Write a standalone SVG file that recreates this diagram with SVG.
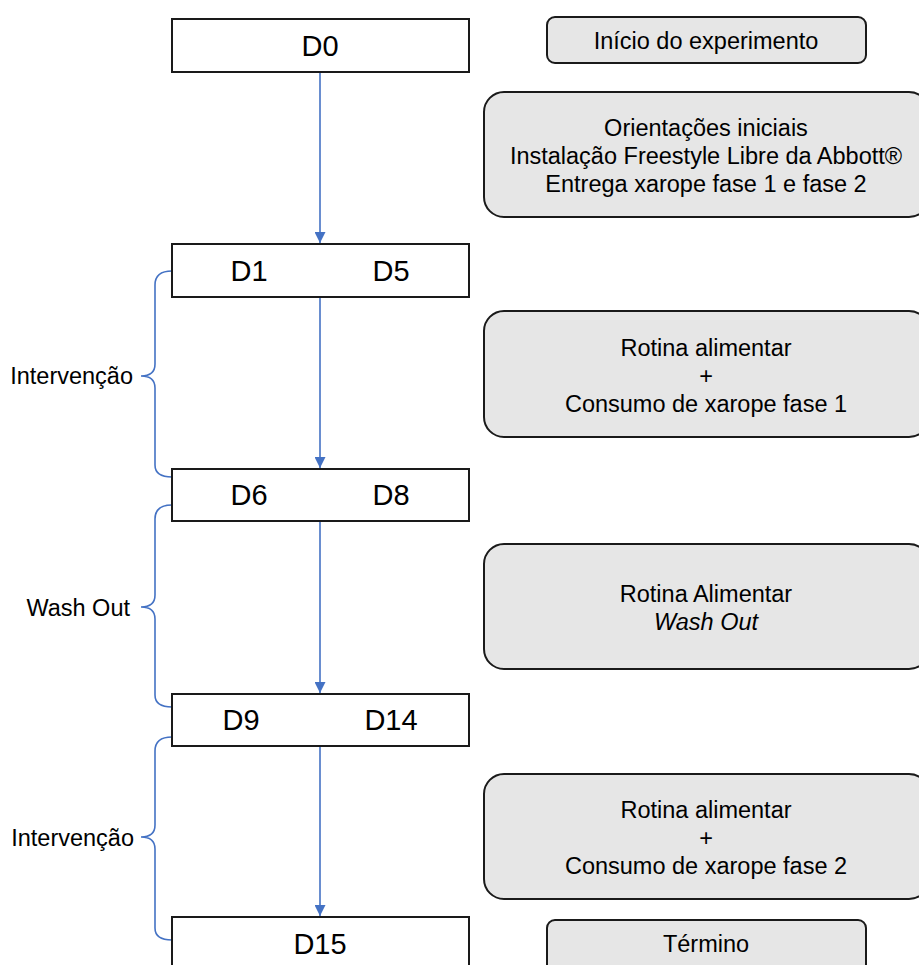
<svg xmlns="http://www.w3.org/2000/svg" width="919" height="965" viewBox="0 0 919 965">
<style>
.day{fill:#fff;stroke:#1a1a1a;stroke-width:2}
.note{fill:#e6e6e6;stroke:#1a1a1a;stroke-width:2}
.t{font-family:"Liberation Sans",Arial,sans-serif;fill:#000;text-anchor:middle}
.big{font-size:29px}
.mid{font-size:23.5px}
.lab{font-family:"Liberation Sans",Arial,sans-serif;font-size:23.5px;fill:#000;text-anchor:end}
.c{fill:none;stroke:#4472C4;stroke-width:1.6}
</style>
<defs>
<marker id="ah" viewBox="0 0 10 10" refX="10" refY="5" markerWidth="11" markerHeight="11" markerUnits="userSpaceOnUse" orient="auto"><path d="M0,0 L10,5 L0,10 z" fill="#4472C4"/></marker>
</defs>
<rect width="919" height="965" fill="#fff"/>
<g id="connectors">
<line class="c" x1="320" y1="73" x2="320" y2="243" marker-end="url(#ah)"/>
<line class="c" x1="320" y1="298" x2="320" y2="468" marker-end="url(#ah)"/>
<line class="c" x1="320" y1="522" x2="320" y2="693" marker-end="url(#ah)"/>
<line class="c" x1="320" y1="747" x2="320" y2="916" marker-end="url(#ah)"/>
<path class="c" d="M172,271 Q155,271 155,285 L155,364 Q155,376 141,376 Q155,376 155,388 L155,465 Q155,477 172,477"/>
<path class="c" d="M172,505 Q155,505 155,519 L155,595 Q155,607 141,607 Q155,607 155,619 L155,695 Q155,707 172,707"/>
<path class="c" d="M172,737 Q155,737 155,751 L155,825 Q155,837 141,837 Q155,837 155,849 L155,928 Q155,940 172,940"/>
</g>
<g id="d0"><rect class="day" x="172" y="19" width="297" height="53"/><text class="t big" x="320" y="56">D0</text></g>
<g id="inicio"><rect class="note" x="547" y="17" width="319" height="46" rx="8"/><text class="t mid" x="706" y="49">Início do experimento</text></g>
<g id="orient"><rect class="note" x="484" y="92" width="445" height="125" rx="20"/>
<text class="t mid" x="706" y="136">Orientações iniciais</text>
<text class="t mid" x="706" y="164">Instalação Freestyle Libre da Abbott®</text>
<text class="t mid" x="706" y="192">Entrega xarope fase 1 e fase 2</text></g>
<g id="d1d5"><rect class="day" x="172" y="244" width="297" height="53"/><text class="t big" x="249" y="281">D1</text><text class="t big" x="391" y="281">D5</text></g>
<g id="rotina1"><rect class="note" x="484" y="311" width="445" height="126" rx="20"/>
<text class="t mid" x="706" y="356">Rotina alimentar</text>
<text class="t mid" x="706" y="384">+</text>
<text class="t mid" x="706" y="412">Consumo de xarope fase 1</text></g>
<g id="interv1"><text class="lab" x="133" y="384">Intervenção</text></g>
<g id="d6d8"><rect class="day" x="172" y="469" width="297" height="52"/><text class="t big" x="249" y="505">D6</text><text class="t big" x="391" y="505">D8</text></g>
<g id="washbox"><rect class="note" x="484" y="544" width="445" height="125" rx="20"/>
<text class="t mid" x="706" y="602">Rotina Alimentar</text>
<text class="t mid" x="706" y="630" font-style="italic">Wash Out</text></g>
<g id="wash"><text class="lab" x="130" y="616">Wash Out</text></g>
<g id="d9d14"><rect class="day" x="172" y="694" width="297" height="52"/><text class="t big" x="241" y="730">D9</text><text class="t big" x="391" y="730">D14</text></g>
<g id="rotina2"><rect class="note" x="484" y="774" width="445" height="125" rx="20"/>
<text class="t mid" x="706" y="818">Rotina alimentar</text>
<text class="t mid" x="706" y="846">+</text>
<text class="t mid" x="706" y="874">Consumo de xarope fase 2</text></g>
<g id="interv2"><text class="lab" x="134" y="846">Intervenção</text></g>
<g id="d15"><rect class="day" x="172" y="917" width="297" height="60"/><text class="t big" x="320" y="954">D15</text></g>
<g id="termino"><rect class="note" x="547" y="920" width="319" height="55" rx="8"/><text class="t mid" x="706" y="952">Término</text></g>
</svg>
